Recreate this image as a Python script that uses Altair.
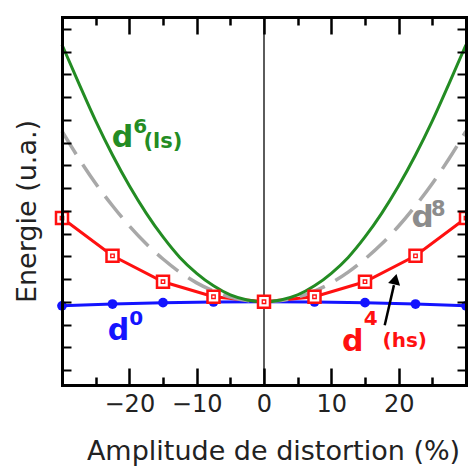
import altair as alt
import pandas as pd

# ---------------- data ----------------
x_pts = [-30, -22.5, -15, -7.5, 0, 7.5, 15, 22.5, 30]
d0_vals = [-0.18, -0.10, -0.04, -0.01, 0.0, -0.01, -0.04, -0.10, -0.18]
d4_vals = [3.68, 2.02, 0.88, 0.22, 0.0, 0.22, 0.88, 2.02, 3.68]

x_curve = [-30, -27.5, -25, -22.5, -20, -17.5, -15, -12.5, -10, -7.5, -5, -2.5, 0,
           2.5, 5, 7.5, 10, 12.5, 15, 17.5, 20, 22.5, 25, 27.5, 30]
d6_vals = [11.3, 9.6, 7.95, 6.45, 5.1, 3.9, 2.85, 1.95, 1.25, 0.7, 0.3, 0.08, 0.0,
           0.08, 0.3, 0.7, 1.25, 1.95, 2.85, 3.9, 5.1, 6.45, 7.95, 9.6, 11.3]
d8_vals = [7.5, 6.3, 5.2, 4.22, 3.33, 2.55, 1.88, 1.3, 0.83, 0.47, 0.21, 0.05, 0.0,
           0.05, 0.21, 0.47, 0.83, 1.3, 1.88, 2.55, 3.33, 4.22, 5.2, 6.3, 7.5]

x_major = [-20, -10, 0, 10, 20]
x_minor = [-25, -15, -5, 5, 15, 25]
y_ticks = list(range(-3, 13))

arrow_x = [17.93, 19.3]
arrow_y = [-1.03, 0.73]
arrow_head = {"x": [19.5], "y": [0.99]}

lab_text = ["d", "6", "(ls)", "d", "0", "d", "4", "(hs)", "d", "8"]
lab_x = [-22.6, -19.4, -17.9, -23.2, -20.0, 11.6, 14.8, 17.6, 21.9, 24.8]
lab_y = [6.79, 7.4, 6.75, -1.69, -1.0, -2.17, -1.0, -2.0, 3.3, 3.75]
lab_size = [30, 20, 21, 30, 20, 30, 20, 20, 31, 21]
lab_color = ["#238c23", "#238c23", "#238c23", "#1414ff", "#1414ff",
             "#ff1010", "#ff1010", "#ff1010", "#8c8c8c", "#8c8c8c"]

BLUE = "#1414ff"
RED = "#ff1010"
GREEN = "#238c23"
GRAY = "#a8a8a8"

W, H = 404, 368

pts = pd.DataFrame({"x": x_pts, "d0": d0_vals, "d4": d4_vals})
curves = pd.DataFrame({"x": x_curve, "d6": d6_vals, "d8": d8_vals})
arrow = pd.DataFrame({"x": arrow_x, "y": arrow_y})
head = pd.DataFrame(arrow_head)
labels = pd.DataFrame({"t": lab_text, "x": lab_x, "y": lab_y, "s": lab_size, "c": lab_color})
zero = pd.DataFrame({"x": [0]})

xs = alt.Scale(domain=[-30, 30], nice=False, zero=False)
ys = alt.Scale(domain=[-3.66, 12.52], nice=False, zero=False)

FONT = "DejaVu Sans"

ax_x_labels = alt.Axis(orient="bottom", values=x_major, ticks=False, tickSize=0,
                       domain=True, domainWidth=3, domainColor="black", domainCap="square",
                       labelFont=FONT, labelFontSize=24, labelColor="#222222", labelPadding=7,
                       title="Amplitude de distortion (%)", titleFont=FONT, titleFontSize=27,
                       titleFontWeight="normal", titleColor="#222222", titlePadding=22,
                       titleX=211, grid=False, zindex=2)
ax_x_bot_major = alt.Axis(orient="top", offset=-H, values=x_major, tickSize=17, tickWidth=2.5,
                          tickColor="black", labels=False, domain=False, grid=False, title=None, zindex=2)
ax_x_bot_minor = alt.Axis(orient="top", offset=-H, values=x_minor, tickSize=8, tickWidth=2.5,
                          tickColor="black", labels=False, domain=False, grid=False, title=None, zindex=2)
ax_x_top_major = alt.Axis(orient="bottom", offset=-H, values=x_major, tickSize=17, tickWidth=2.5,
                          tickColor="black", labels=False, domain=True, domainWidth=3,
                          domainColor="black", domainCap="square", grid=False, title=None, zindex=2)
ax_x_top_minor = alt.Axis(orient="bottom", offset=-H, values=x_minor, tickSize=8, tickWidth=2.5,
                          tickColor="black", labels=False, domain=False, grid=False, title=None, zindex=2)

ax_y_title = alt.Axis(orient="left", ticks=False, labels=False, domain=True, domainWidth=3,
                      domainColor="black", domainCap="square", grid=False,
                      title="Energie (u.a.)", titleFont=FONT, titleFontSize=27,
                      titleFontWeight="normal", titleColor="#222222", titlePadding=21,
                      titleY=194, zindex=2)
ax_y_left_ticks = alt.Axis(orient="right", offset=-W, values=y_ticks, tickSize=9, tickWidth=2,
                           tickColor="black", labels=False, domain=False, grid=False, title=None, zindex=2)
ax_y_right_ticks = alt.Axis(orient="left", offset=-W, values=y_ticks, tickSize=9, tickWidth=2,
                            tickColor="black", labels=False, domain=True, domainWidth=3,
                            domainColor="black", domainCap="square", grid=False, title=None, zindex=2)


def X(field, axis):
    return alt.X(field, type="quantitative", scale=xs, axis=axis)


def Y(field, axis):
    return alt.Y(field, type="quantitative", scale=ys, axis=axis)


zero_rule = alt.Chart(zero).mark_rule(color="#333333", strokeWidth=1.6).encode(
    x=X("x", ax_x_top_minor))

blue_line = alt.Chart(pts).mark_line(color=BLUE, strokeWidth=3).encode(
    x=X("x", ax_x_labels), y=Y("d0", ax_y_title))
blue_pts = alt.Chart(pts).mark_circle(color=BLUE, size=95, opacity=1).encode(
    x=X("x", None), y=Y("d0", None))

red_line = alt.Chart(pts).mark_line(color=RED, strokeWidth=3).encode(
    x=X("x", ax_x_bot_major), y=Y("d4", ax_y_left_ticks))

gray_line = alt.Chart(curves).mark_line(color=GRAY, strokeWidth=3.5, strokeDash=[27, 12],
                                        interpolate="monotone").encode(
    x=X("x", ax_x_bot_minor), y=Y("d8", ax_y_right_ticks))

green_line = alt.Chart(curves).mark_line(color=GREEN, strokeWidth=3, interpolate="monotone").encode(
    x=X("x", ax_x_top_major), y=Y("d6", None))

red_sq = alt.Chart(pts).mark_square(size=144, fill="white", fillOpacity=1, stroke=RED,
                                    strokeWidth=2.5, opacity=1).encode(
    x=X("x", None), y=Y("d4", None))
red_dot = alt.Chart(pts).mark_square(size=12, fill="white", fillOpacity=1, stroke=RED,
                                     strokeWidth=1.3, opacity=1).encode(
    x=X("x", None), y=Y("d4", None))

arrow_line = alt.Chart(arrow).mark_line(color="black", strokeWidth=2.5).encode(
    x=X("x", None), y=Y("y", None))
arrow_tip = alt.Chart(head).mark_point(shape="triangle-up", size=150, filled=True,
                                       color="black", opacity=1, angle=13).encode(
    x=X("x", None), y=Y("y", None))

texts = alt.Chart(labels).mark_text(align="left", baseline="alphabetic",
                                    font="DejaVu Sans", fontWeight="bold").encode(
    x=X("x", None), y=Y("y", None), text="t:N",
    size=alt.Size("s:Q", scale=None), color=alt.Color("c:N", scale=None))

chart = alt.layer(
    zero_rule, blue_line, blue_pts, red_line, gray_line, green_line,
    red_sq, red_dot, arrow_line, arrow_tip, texts
).resolve_axis(x="independent", y="independent").properties(
    width=W, height=H,
    padding={"left": 54, "top": 9, "right": 2, "bottom": 86},
    autosize=alt.AutoSizeParams(type="none"),
).configure_view(stroke=None).configure(background="white")

chart.save("out.html", embed_options={"renderer": "svg", "actions": False})
